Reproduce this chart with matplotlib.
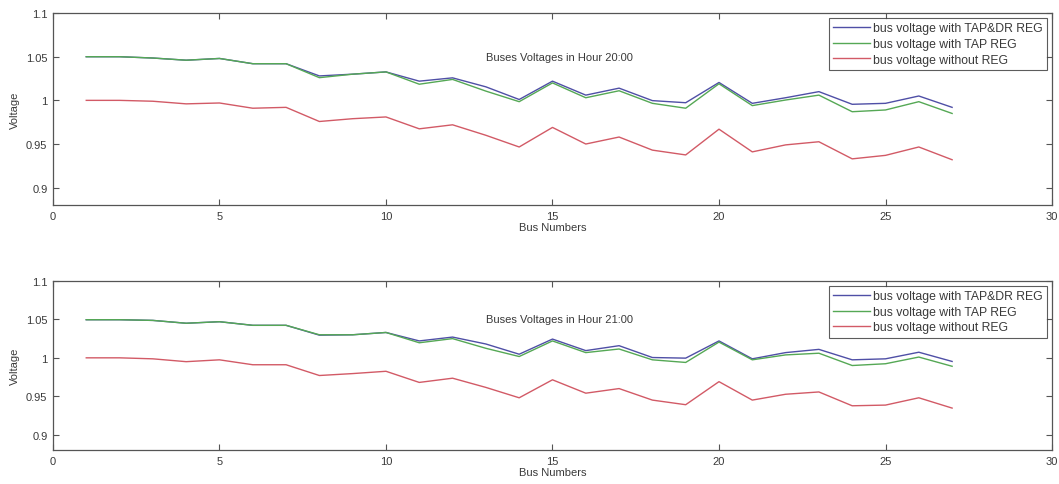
import matplotlib
matplotlib.use("Agg")
import matplotlib.pyplot as plt
from matplotlib.ticker import FuncFormatter

buses = list(range(1, 28))

# Hour 20:00
h20_tapdr = [1.050, 1.050, 1.0485, 1.046, 1.048, 1.042, 1.042, 1.028, 1.030, 1.0326,
             1.022, 1.0258, 1.0155, 1.001, 1.022, 1.006, 1.014, 0.9997, 0.9973, 1.0205,
             0.9966, 1.003, 1.010, 0.9955, 0.9966, 1.005, 0.992]
h20_tap = [1.050, 1.050, 1.0485, 1.046, 1.048, 1.042, 1.042, 1.026, 1.030, 1.0326,
           1.0185, 1.024, 1.0106, 0.9985, 1.020, 1.003, 1.011, 0.9966, 0.991, 1.019,
           0.994, 1.0004, 1.006, 0.987, 0.989, 0.9985, 0.985]
h20_noreg = [1.000, 1.000, 0.999, 0.996, 0.997, 0.991, 0.992, 0.9758, 0.979, 0.981,
             0.9674, 0.972, 0.960, 0.9466, 0.969, 0.950, 0.958, 0.943, 0.9375, 0.967,
             0.941, 0.949, 0.9526, 0.933, 0.937, 0.9466, 0.932]

# Hour 21:00
h21_tapdr = [1.0496, 1.0496, 1.0487, 1.045, 1.047, 1.0423, 1.0423, 1.0295, 1.030, 1.033,
             1.022, 1.027, 1.018, 1.0047, 1.0244, 1.0094, 1.0158, 1.0004, 0.9996, 1.022,
             0.9987, 1.0068, 1.011, 0.9974, 0.9987, 1.0073, 0.9953]
h21_tap = [1.0496, 1.0496, 1.0487, 1.045, 1.047, 1.0423, 1.0423, 1.030, 1.030, 1.033,
           1.0196, 1.025, 1.0124, 1.0017, 1.022, 1.0068, 1.0115, 0.9974, 0.994, 1.0205,
           0.9974, 1.0038, 1.006, 0.990, 0.9923, 1.001, 0.989]
h21_noreg = [1.000, 1.000, 0.9987, 0.995, 0.9974, 0.991, 0.991, 0.977, 0.9795, 0.9825,
             0.968, 0.9735, 0.9615, 0.948, 0.9714, 0.954, 0.960, 0.945, 0.939, 0.969,
             0.945, 0.9526, 0.9556, 0.9376, 0.9385, 0.948, 0.9346]

labels = ["bus voltage with TAP&DR REG", "bus voltage with TAP REG", "bus voltage without REG"]
titles = ["Buses Voltages in Hour 20:00", "Buses Voltages in Hour 21:00"]
xticks = [0, 5, 10, 15, 20, 25, 30]
yticks = [0.9, 0.95, 1.0, 1.05, 1.1]

colors = ["#4f4fa6", "#55a855", "#d25a66"]
txtc = "#3a3a3a"

plt.rcParams['font.family'] = ['Liberation Sans', 'DejaVu Sans']

fig = plt.figure(figsize=(10.59, 4.85), dpi=100)
ax1 = fig.add_axes([0.050, 0.575, 0.9434, 0.396])
ax2 = fig.add_axes([0.050, 0.070, 0.9434, 0.3486])

data = [(h20_tapdr, h20_tap, h20_noreg), (h21_tapdr, h21_tap, h21_noreg)]
fmt = FuncFormatter(lambda v, p: ('%g' % round(v, 4)))

for ax, series, title in zip([ax1, ax2], data, titles):
    for s, c, lab in zip(series, colors, labels):
        ax.plot(buses, s, color=c, lw=1.0, label=lab)
    ax.set_xlim(0, 30)
    ax.set_ylim(0.88, 1.1)
    ax.set_xticks(xticks)
    ax.set_yticks(yticks)
    ax.yaxis.set_major_formatter(fmt)
    ax.tick_params(direction='in', top=True, right=True, length=4, width=0.8,
                   labelsize=8, colors='#555555', labelcolor=txtc, pad=4)
    for sp in ax.spines.values():
        sp.set_color('#555555')
        sp.set_linewidth(0.9)
    ax.set_xlabel("Bus Numbers", fontsize=8, color=txtc, labelpad=1)
    ax.set_ylabel("Voltage", fontsize=8, color=txtc, labelpad=4)
    ax.text(13.0, 1.05, title, fontsize=8, color=txtc, va='center', ha='left')
    leg = ax.legend(loc='upper right', fontsize=8.8, frameon=True, fancybox=False,
                    handlelength=3.0, handletextpad=0.3, borderpad=0.35,
                    labelspacing=0.3, borderaxespad=0.4)
    leg.get_frame().set_edgecolor('#333333')
    leg.get_frame().set_linewidth(0.8)
    for t in leg.get_texts():
        t.set_color(txtc)

fig.savefig("out.png", dpi=100)
